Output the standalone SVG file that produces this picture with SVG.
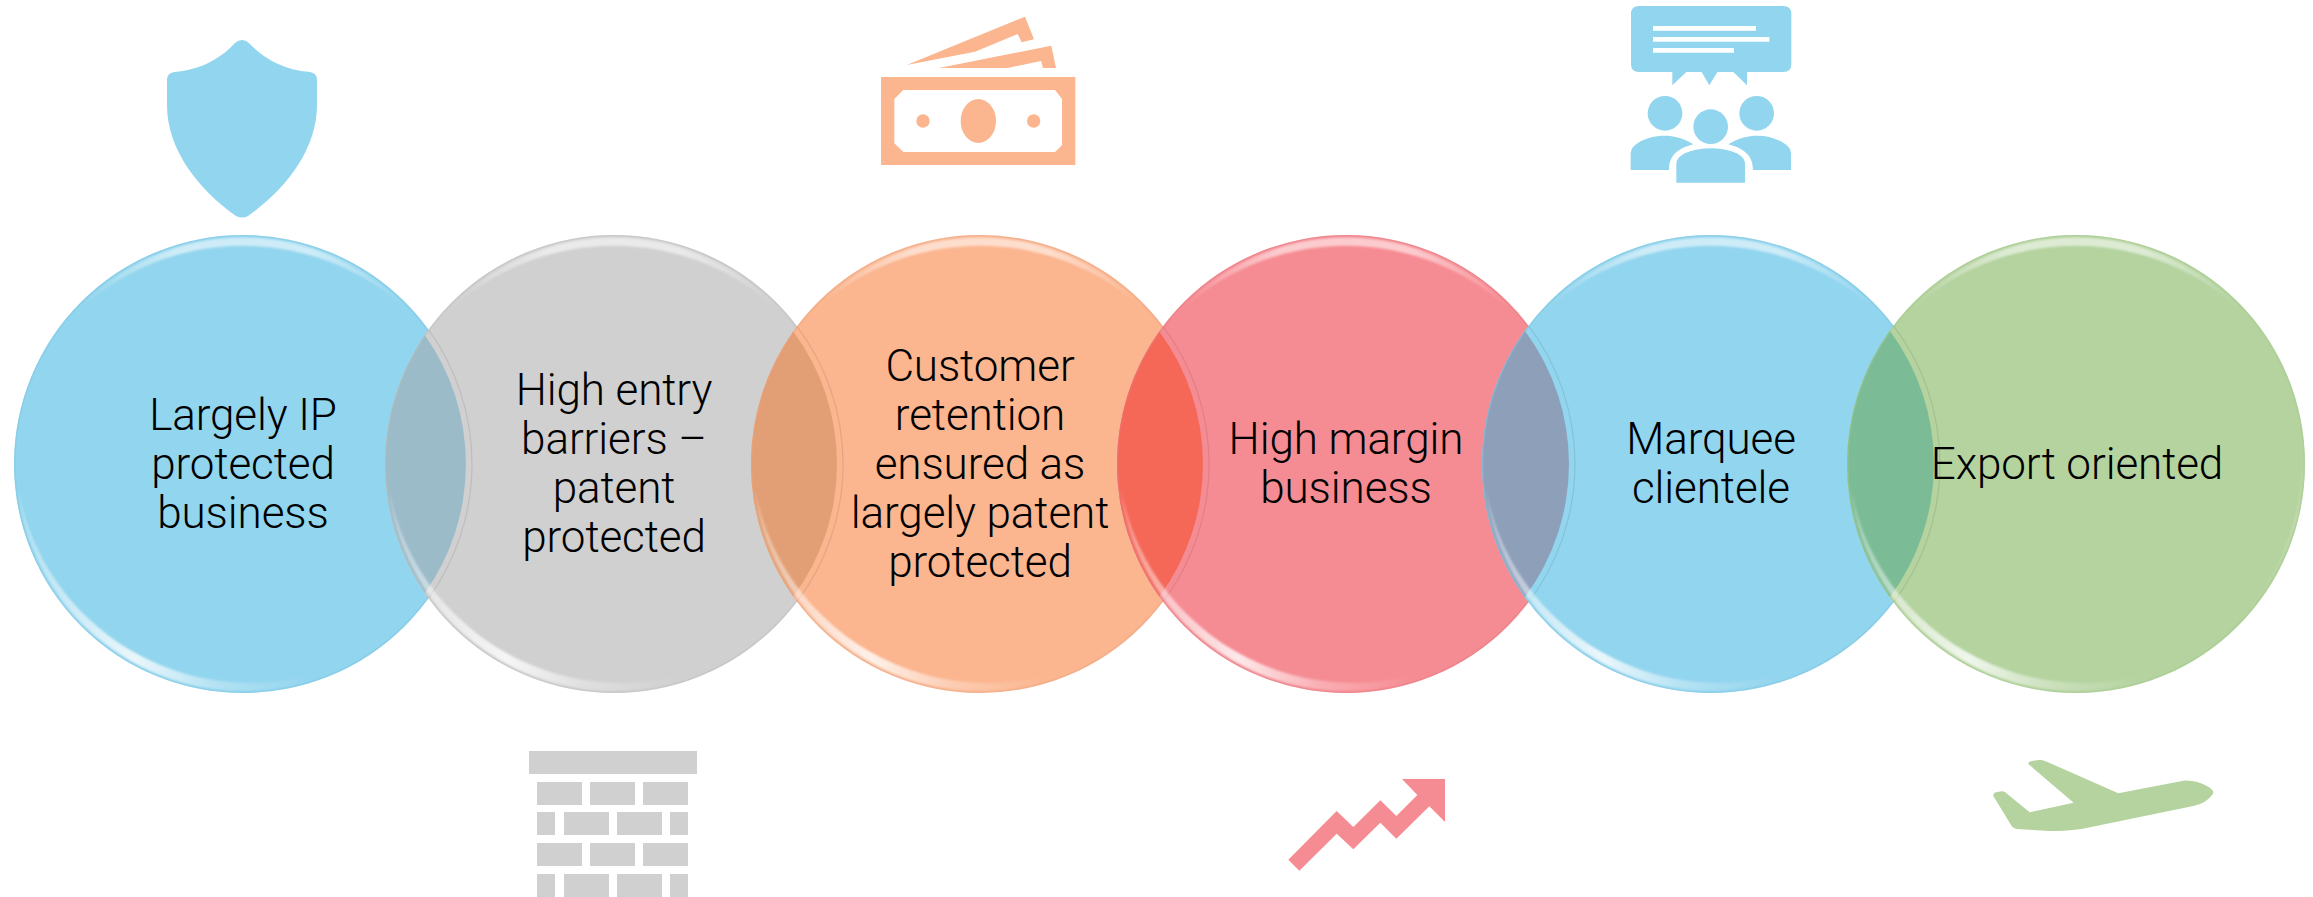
<svg xmlns="http://www.w3.org/2000/svg" xmlns:xlink="http://www.w3.org/1999/xlink" width="2313" height="897" viewBox="0 0 2313 897">
<style>
text{font-family:Roboto,"Liberation Sans",Arial,sans-serif;font-size:44px;font-weight:300;fill:#000;text-anchor:middle;letter-spacing:-.1px}
.blue{fill:#92D5EE}.gray{fill:#D0D0D0}.orange{fill:#FBB58F}.red{fill:#F68C93}.green{fill:#B4D39F}
.edge{fill:none;stroke-width:1.5;stroke-opacity:.4}
.band{fill:none;stroke:#000;stroke-opacity:.09;stroke-width:1.2}
</style>
<defs>
<linearGradient id="topHi" x1="0" x2="1" y1="0" y2="0">
<stop offset="0" stop-color="#fff" stop-opacity="0"/><stop offset=".3" stop-color="#fff" stop-opacity=".55"/><stop offset=".7" stop-color="#fff" stop-opacity=".55"/><stop offset="1" stop-color="#fff" stop-opacity="0"/>
</linearGradient>
<linearGradient id="botHi" x1="0" x2="1" y1="0" y2="0">
<stop offset="0" stop-color="#fff" stop-opacity=".3"/><stop offset=".32" stop-color="#fff" stop-opacity=".8"/><stop offset=".55" stop-color="#fff" stop-opacity=".3"/><stop offset=".8" stop-color="#fff" stop-opacity="0"/>
</linearGradient>
<linearGradient id="sideHi" x1="0" x2="0" y1="0" y2="1">
<stop offset="0" stop-color="#fff" stop-opacity="0"/><stop offset=".5" stop-color="#fff" stop-opacity=".4"/><stop offset="1" stop-color="#fff" stop-opacity="0"/>
</linearGradient>
<filter id="soft" x="-5%" y="-20%" width="110%" height="140%"><feGaussianBlur stdDeviation="1.2"/></filter>
<g id="rim" filter="url(#soft)">
<path fill="url(#topHi)" d="M-170,-149 A225,225 0 0 1 170,-149 A243,243 0 0 0 -170,-149Z"/>
<path fill="url(#botHi)" d="M-225,25 A226,226 0 0 0 140,178 A236,236 0 0 1 -225,25Z"/>
<path fill="url(#sideHi)" d="M222,-50 A227,227 0 0 1 160,160 A235,235 0 0 0 222,-50Z"/>
</g>
</defs>

<g id="node-1">
<circle class="blue" cx="243" cy="464" r="229"/>
<circle class="edge" cx="243" cy="464" r="228.2" stroke="#7CC4DE"/>
<use xlink:href="#rim" href="#rim" x="243" y="464"/>
<text x="243" y="430">Largely IP</text><text x="243" y="479">protected</text><text x="243" y="528">business</text>
<path class="blue" d="M235,43Q242,37 249,43C262,57 282,70 310,72Q317,73 317,80V105C317,150 285,190 248,216Q242,219 236,216C199,190 167,150 167,105V80Q167,73 174,72C202,70 222,57 235,43Z"/>
</g>

<g id="node-2">
<circle class="gray" cx="614" cy="464" r="229"/>
<path fill="#9BBBC9" d="M424.8,335A229,229 0 0 0 424.8,593A223,223 0 0 0 424.8,335Z"/>
<path class="band" d="M428.5,329.7A229,229 0 0 1 428.5,598.3"/>
<circle class="edge" cx="614" cy="464" r="228.2" stroke="#BBBBBB"/>
<use xlink:href="#rim" href="#rim" x="614" y="464"/>
<text x="614" y="405">High entry</text><text x="614" y="454">barriers –</text><text x="614" y="503">patent</text><text x="614" y="552">protected</text>
<g class="gray">
<rect x="529" y="751" width="168" height="23"/>
<rect x="537" y="782" width="45" height="23"/><rect x="590" y="782" width="45" height="23"/><rect x="643" y="782" width="45" height="23"/>
<rect x="537" y="812" width="18" height="23"/><rect x="564" y="812" width="45" height="23"/><rect x="617" y="812" width="45" height="23"/><rect x="670" y="812" width="18" height="23"/>
<rect x="537" y="843" width="45" height="23"/><rect x="590" y="843" width="45" height="23"/><rect x="643" y="843" width="45" height="23"/>
<rect x="537" y="874" width="18" height="23"/><rect x="564" y="874" width="45" height="23"/><rect x="617" y="874" width="45" height="23"/><rect x="670" y="874" width="18" height="23"/>
</g>
</g>

<g id="node-3">
<circle class="orange" cx="980" cy="464" r="229"/>
<path fill="#E29F75" d="M793.3,331.4A229,229 0 0 0 793.3,596.6A223,223 0 0 0 793.3,331.4Z"/>
<path class="band" d="M797,326.3A229,229 0 0 1 797,601.7"/>
<circle class="edge" cx="980" cy="464" r="228.2" stroke="#E9A581"/>
<use xlink:href="#rim" href="#rim" x="980" y="464"/>
<text x="980" y="381">Customer</text><text x="980" y="430">retention</text><text x="980" y="479">ensured as</text><text x="980" y="528">largely patent</text><text x="980" y="577">protected</text>
<g class="orange" transform="translate(860 0) scale(.33333)">
<path fill-rule="evenodd" d="M63,231H646V495H63ZM130,270L103,297V430L130,456H585L606,436V297L585,270Z"/>
<ellipse cx="355" cy="363" rx="53" ry="66"/><circle cx="189" cy="363" r="20"/><circle cx="521" cy="363" r="20"/>
<polygon points="140,195 495,50 522,118 485,127 473,102 345,155"/>
<polygon points="237,204 574,137 588,204 549,204 543,183 443,204"/>
</g>
</g>

<g id="node-4">
<circle class="red" cx="1346" cy="464" r="229"/>
<path fill="#F56858" d="M1159.3,331.4A229,229 0 0 0 1159.3,596.6A223,223 0 0 0 1159.3,331.4Z"/>
<path class="band" d="M1163,326.3A229,229 0 0 1 1163,601.7"/>
<circle class="edge" cx="1346" cy="464" r="228.2" stroke="#E27A82"/>
<use xlink:href="#rim" href="#rim" x="1346" y="464"/>
<text x="1346" y="454">High margin</text><text x="1346" y="503">business</text>
<polygon class="red" transform="translate(1270 760) scale(.33333)" points="55,299 200,153 250,201 331,121 379,168 442,105 396,57 525,57 525,186 478,139 379,236 331,188 250,268 200,221 88,332"/>
</g>

<g id="node-5">
<circle class="blue" cx="1711" cy="464" r="229"/>
<path fill="#8E9FBA" d="M1524.8,330.8A229,229 0 0 0 1524.8,597.2A223,223 0 0 0 1524.8,330.8Z"/>
<path class="band" d="M1528.5,325.7A229,229 0 0 1 1528.5,602.3"/>
<circle class="edge" cx="1711" cy="464" r="228.2" stroke="#7CC4DE"/>
<use xlink:href="#rim" href="#rim" x="1711" y="464"/>
<text x="1711" y="454">Marquee</text><text x="1711" y="503">clientele</text>
<g class="blue" transform="translate(1610 0) scale(.33333)">
<path fill-rule="evenodd" d="M87,18H520Q544,18 544,42V192Q544,216 520,216H411V256L370,216H322L298,256L275,216H229L187,256V216H87Q63,216 63,192V42Q63,18 87,18ZM129,78V92H438V78ZM129,111V125H478V111ZM129,144V158H372V144Z"/>
<circle cx="165" cy="340" r="52"/><circle cx="440" cy="340" r="52"/><circle cx="302" cy="380" r="52"/>
<path d="M62,510V460Q62,442 85,428C130,402 195,398 250,433C205,445 177,465 177,510Z"/>
<path d="M543,510V460Q543,442 520,428C475,402 410,398 355,433C400,445 429,465 429,510Z"/>
<path d="M199,548V492Q199,472 225,460C270,440 335,440 380,460Q405,472 405,492V548Z"/>
</g>
</g>

<g id="node-6">
<circle class="green" cx="2076" cy="464" r="229"/>
<path fill="#7BBC96" d="M1889.8,330.8A229,229 0 0 0 1889.8,597.2A223,223 0 0 0 1889.8,330.8Z"/>
<path class="band" d="M1893.5,325.7A229,229 0 0 1 1893.5,602.3"/>
<circle class="edge" cx="2076" cy="464" r="228.2" stroke="#A3C78B"/>
<use xlink:href="#rim" href="#rim" x="2076" y="464"/>
<text x="2077" y="479">Export oriented</text>
<path class="green" transform="translate(1970 740) scale(.33333)" d="M175,72Q175,65 185,63L210,59Q220,60 230,65L445,160L640,122Q680,120 715,140Q735,152 728,163Q710,190 670,198L360,262Q300,275 240,273L140,267Q130,266 125,258L70,168Q68,160 78,157L95,154Q105,153 112,162L179,217L311,188Z"/>
</g>
<g id="connectors"/>
</svg>
